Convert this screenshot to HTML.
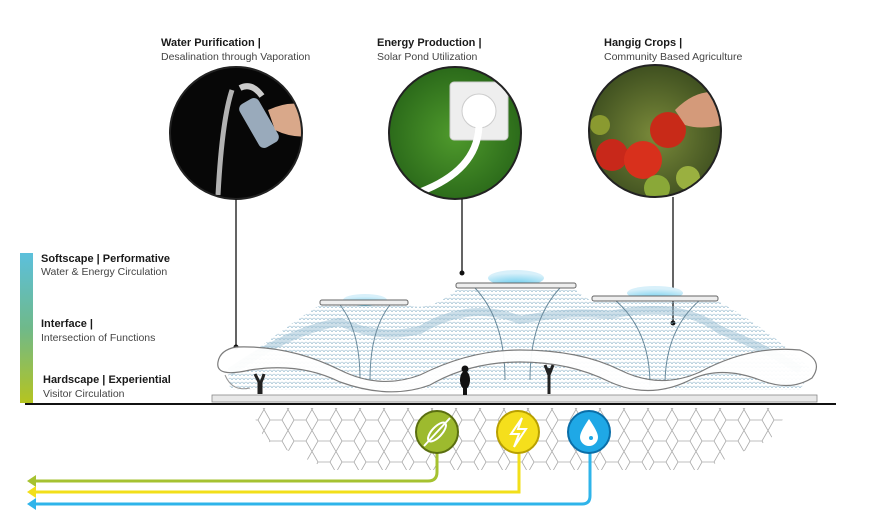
<!DOCTYPE html>
<html><head><meta charset="utf-8"><style>
html,body{margin:0;padding:0;background:#fff;}
svg{display:block;font-family:"Liberation Sans",Arial,sans-serif;}
.t{font-size:11px;font-weight:bold;fill:#1a1a1a}
.s{font-size:10.5px;fill:#444}
</style></head><body>
<svg width="882" height="526" viewBox="0 0 882 526" xmlns="http://www.w3.org/2000/svg">
<defs>
<linearGradient id="bar" x1="0" y1="0" x2="0" y2="1">
<stop offset="0" stop-color="#5cc0dc"/><stop offset="0.5" stop-color="#6fb98a"/><stop offset="1" stop-color="#b5c420"/></linearGradient>
<radialGradient id="grass" cx="0.5" cy="0.5" r="0.6"><stop offset="0" stop-color="#4f9a2c"/><stop offset="1" stop-color="#1f5a14"/></radialGradient>
<radialGradient id="leaf" cx="0.5" cy="0.5" r="0.6"><stop offset="0" stop-color="#7a8a3a"/><stop offset="1" stop-color="#2e3f18"/></radialGradient>
<radialGradient id="dome" cx="0.5" cy="1" r="0.8"><stop offset="0" stop-color="#5cc8ec"/><stop offset="1" stop-color="#d8f0fa"/></radialGradient>
<clipPath id="c1"><circle cx="236" cy="133" r="66"/></clipPath>
<clipPath id="c2"><circle cx="455" cy="133" r="66"/></clipPath>
<clipPath id="c3"><circle cx="655" cy="131" r="66"/></clipPath>
<pattern id="hex" width="24" height="21" patternUnits="userSpaceOnUse">
<path d="M6 0 L18 0 L24 10.5 L18 21 L6 21 L0 10.5 Z" fill="none" stroke="#aaa" stroke-width="0.8"/>
</pattern>
<pattern id="mesh" width="4" height="4" patternUnits="userSpaceOnUse"><path d="M0 4 Q2 0 4 4" fill="none" stroke="#7eaac2" stroke-width="0.6"/></pattern>
</defs>

<text x="161" y="46" class="t">Water Purification |</text>
<text x="161" y="60" class="s">Desalination through Vaporation</text>
<text x="377" y="46" class="t">Energy Production |</text>
<text x="377" y="60" class="s">Solar Pond Utilization</text>
<text x="604" y="46" class="t">Hangig Crops |</text>
<text x="604" y="60" class="s">Community Based Agriculture</text>

<g clip-path="url(#c1)">
<rect x="160" y="60" width="150" height="150" fill="#070707"/>
<path d="M232 90 Q222 120 218 195" stroke="#ddd" stroke-width="5" fill="none" opacity="0.8"/>
<path d="M240 88 Q252 82 262 96" stroke="#ccc" stroke-width="6" fill="none"/>
<rect x="248" y="98" width="22" height="50" rx="6" fill="#9ab" transform="rotate(-30 259 123)"/>
<path d="M268 110 Q300 95 320 115 L320 135 Q295 140 275 130 Z" fill="#d9a88a"/>
</g>
<circle cx="236" cy="133" r="66" fill="none" stroke="#222" stroke-width="2"/>
<g clip-path="url(#c2)">
<rect x="380" y="60" width="150" height="150" fill="url(#grass)"/>
<rect x="450" y="82" width="58" height="58" rx="4" fill="#eee" stroke="#ccc"/>
<circle cx="479" cy="111" r="17" fill="#fff" stroke="#ccc"/>
<path d="M479 125 Q478 170 420 192" stroke="#fff" stroke-width="7" fill="none"/>
</g>
<circle cx="455" cy="133" r="66" fill="none" stroke="#222" stroke-width="2"/>
<g clip-path="url(#c3)">
<rect x="580" y="60" width="150" height="150" fill="url(#leaf)"/>
<circle cx="612" cy="155" r="16" fill="#c8281a"/>
<circle cx="643" cy="160" r="19" fill="#d8301c"/>
<circle cx="668" cy="130" r="18" fill="#c82a18"/>
<circle cx="657" cy="188" r="13" fill="#8aa838"/>
<circle cx="688" cy="178" r="12" fill="#9ab040"/>
<circle cx="600" cy="125" r="10" fill="#8a9a30"/>
<path d="M675 110 Q700 85 725 95 L722 125 Q700 130 685 125 Z" fill="#d49a7a"/>
</g>
<circle cx="655" cy="131" r="66" fill="none" stroke="#222" stroke-width="2"/>

<line x1="236" y1="199" x2="236" y2="347" stroke="#111" stroke-width="1.3"/>
<circle cx="236" cy="347" r="2.5" fill="#111"/>
<line x1="462" y1="199" x2="462" y2="273" stroke="#111" stroke-width="1.3"/>
<circle cx="462" cy="273" r="2.5" fill="#111"/>
<line x1="673" y1="197" x2="673" y2="323" stroke="#111" stroke-width="1.3"/>
<circle cx="673" cy="323" r="2.5" fill="#111"/>

<rect x="20" y="253" width="13" height="150" fill="url(#bar)"/>
<text x="41" y="262" class="t">Softscape | Performative</text>
<text x="41" y="275" class="s">Water &amp; Energy Circulation</text>
<text x="41" y="327" class="t">Interface |</text>
<text x="41" y="341" class="s">Intersection of Functions</text>
<text x="43" y="383" class="t">Hardscape |  Experiential</text>
<text x="43" y="397" class="s">Visitor Circulation</text>

<path d="M250 408 L790 408 L770 440 L700 470 L330 470 L265 440 Z" fill="url(#hex)"/>

<!-- canopy mesh -->
<path d="M228 372 Q280 330 320 305 L408 305 Q430 312 456 290 L576 290 Q585 298 592 301 L718 301 Q770 330 812 370 L800 390 L230 390 Z" fill="url(#mesh)" opacity="0.9"/>
<path d="M230 372 Q290 330 340 322 Q380 340 420 330 Q470 300 520 320 Q570 310 610 315 Q680 300 720 330 Q770 350 800 370" fill="none" stroke="#9cc0d4" stroke-width="8" opacity="0.5"/>
<path d="M340 305 Q360 330 360 380 M390 305 Q370 330 370 380" stroke="#6a8a9c" fill="none"/>
<path d="M475 288 Q505 320 505 380 M560 288 Q530 320 530 380" stroke="#6a8a9c" fill="none"/>
<path d="M615 300 Q650 330 650 385 M700 300 Q665 330 665 385" stroke="#6a8a9c" fill="none"/>
<ellipse cx="365" cy="300" rx="22" ry="6" fill="url(#dome)"/>
<rect x="320" y="300" width="88" height="5" rx="2" fill="#eee" stroke="#666"/>
<ellipse cx="516" cy="278" rx="28" ry="8" fill="url(#dome)"/>
<rect x="456" y="283" width="120" height="5" rx="2" fill="#eee" stroke="#666"/>
<ellipse cx="655" cy="293" rx="28" ry="7" fill="url(#dome)"/>
<rect x="592" y="296" width="126" height="5" rx="2" fill="#eee" stroke="#666"/>

<path d="M236 347 Q290 345 340 370 Q380 390 420 375 Q470 350 520 350 Q580 350 620 370 Q660 390 700 372 Q750 345 800 350 Q825 360 812 378 Q790 392 760 380 Q720 365 690 380 Q650 400 610 382 Q570 362 520 362 Q470 362 430 385 Q390 400 340 382 Q300 362 250 370 Q215 378 218 362 Q220 350 236 347 Z" fill="#fff" stroke="#777" stroke-width="1.2" opacity="0.95"/>
<path d="M225 375 Q232 392 250 388" fill="none" stroke="#999"/>

<rect x="212" y="395" width="605" height="7" fill="#e8e8e8" stroke="#888" stroke-width="0.8"/>
<path d="M259 394 L259 382 Q257 378 255 374 M261 394 L261 382 Q263 378 264 374" stroke="#222" stroke-width="3" fill="none"/>
<ellipse cx="465" cy="380" rx="5" ry="9" fill="#111"/><circle cx="465" cy="369" r="3.5" fill="#111"/><rect x="463" y="386" width="4" height="9" fill="#111"/>
<path d="M549 394 L549 375 M545 365 L549 375 L553 365" stroke="#222" stroke-width="3" fill="none"/><circle cx="549" cy="371" r="3" fill="#222"/>

<line x1="25" y1="404" x2="836" y2="404" stroke="#111" stroke-width="2"/>

<path d="M437 452 L437 472 Q437 481 428 481 L32 481" fill="none" stroke="#a6c230" stroke-width="3"/>
<path d="M519 452 L519 492 L32 492" fill="none" stroke="#f2df1a" stroke-width="3"/>
<path d="M590 452 L590 496 Q590 504 582 504 L32 504" fill="none" stroke="#2fb4ea" stroke-width="3"/>
<path d="M27 481 L36 475 L36 487 Z" fill="#a6c230"/>
<path d="M27 492 L36 486 L36 498 Z" fill="#f2df1a"/>
<path d="M27 504 L36 498 L36 510 Z" fill="#2fb4ea"/>

<circle cx="437" cy="432" r="21" fill="#9dba2e" stroke="#5a6e10" stroke-width="2"/>
<path d="M424 446 L450 418" stroke="#fff" stroke-width="2"/>
<ellipse cx="437" cy="432" rx="12" ry="5" fill="none" stroke="#fff" stroke-width="2" transform="rotate(-47 437 432)"/>
<circle cx="518" cy="432" r="21" fill="#f5df1c" stroke="#b8a000" stroke-width="2"/>
<path d="M522 418 L511 434 L519 434 L514 447 L526 429 L518 429 Z" fill="none" stroke="#fff" stroke-width="2"/>
<circle cx="589" cy="432" r="21" fill="#1fa8e6" stroke="#0a6ea8" stroke-width="2"/>
<path d="M589 419 Q580 432 580 437 A9 9 0 0 0 598 437 Q598 432 589 419 Z" fill="#fff"/>
<circle cx="591" cy="438" r="2" fill="#1fa8e6"/>
</svg>
</body></html>
